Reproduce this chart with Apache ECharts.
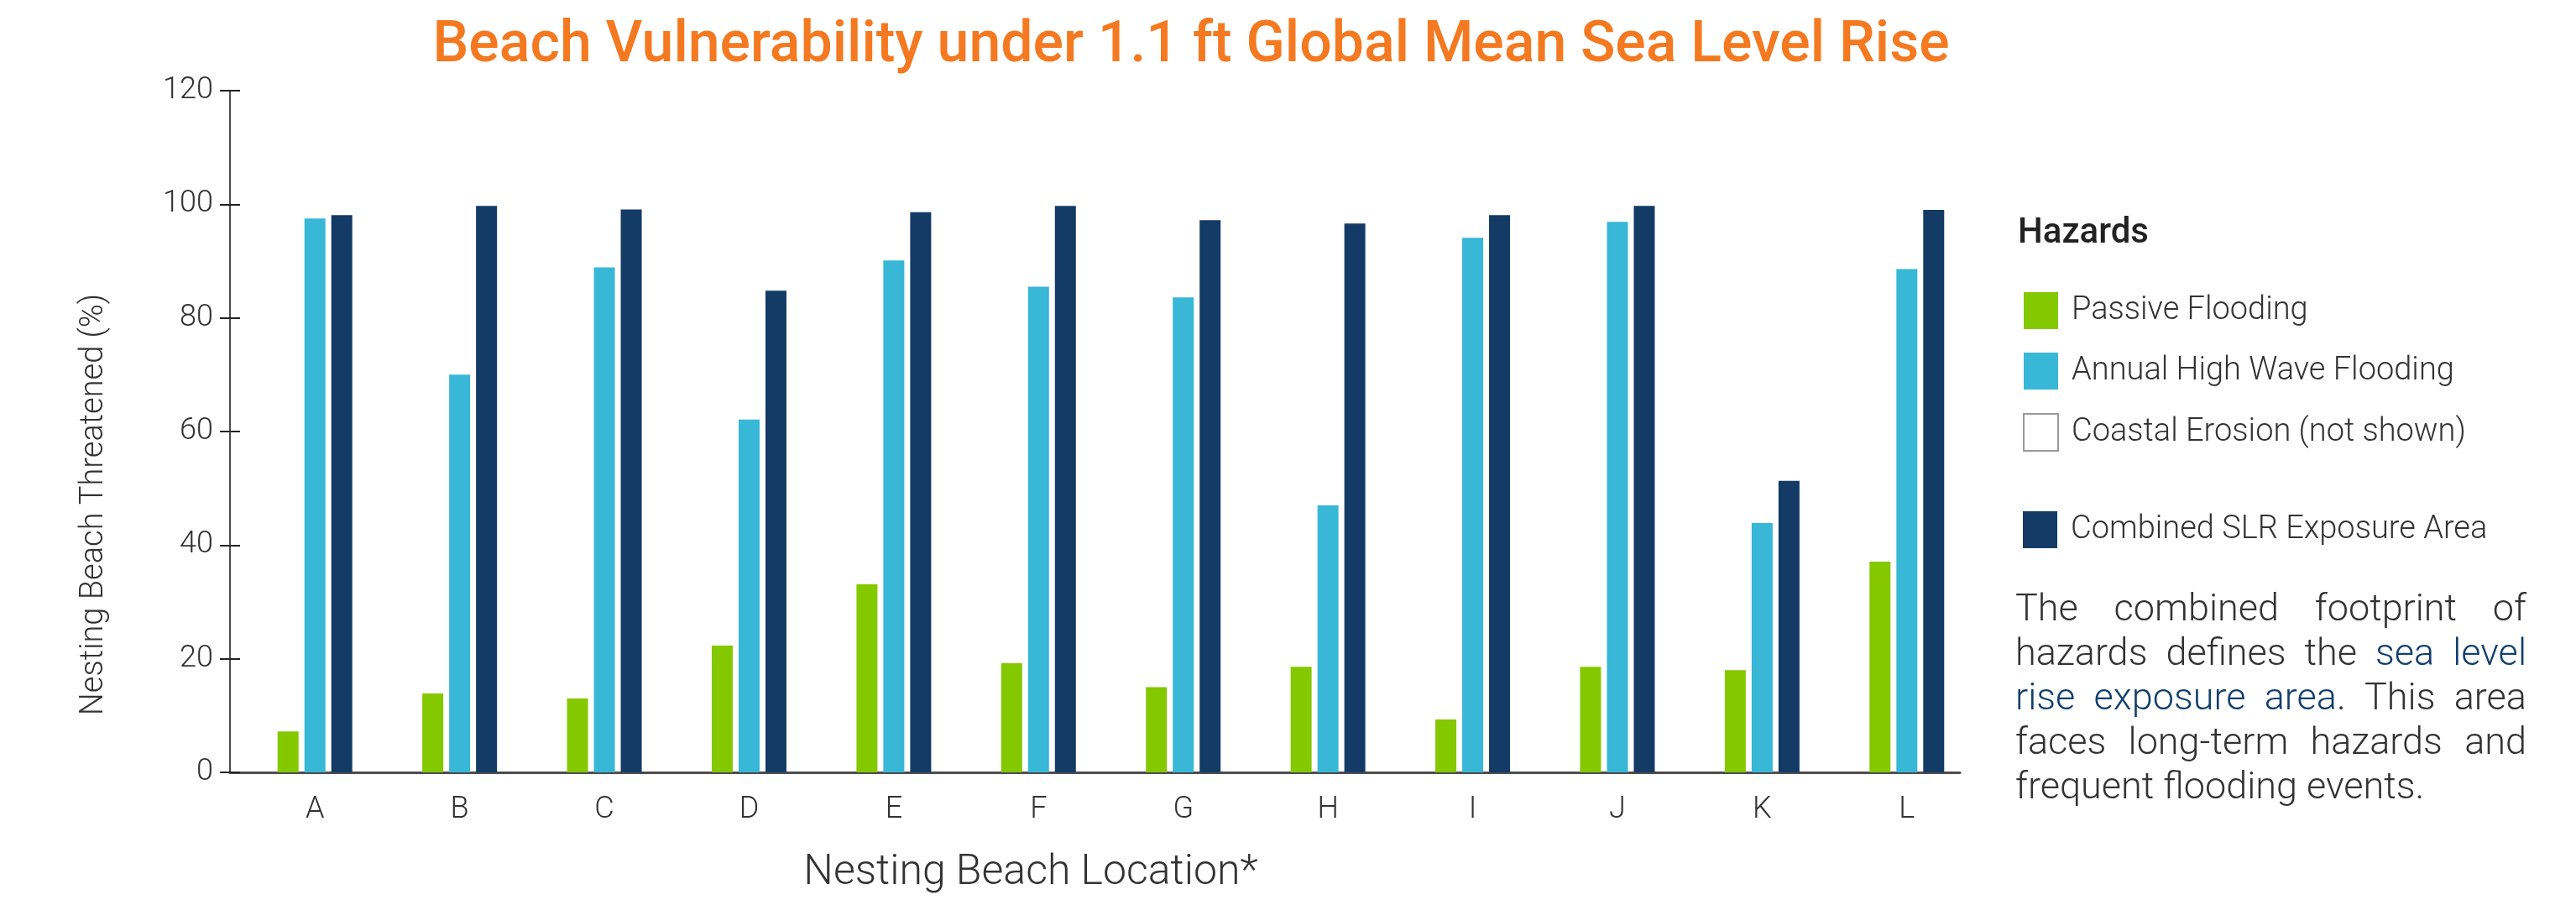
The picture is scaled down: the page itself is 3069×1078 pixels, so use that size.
<!DOCTYPE html>
<html>
<head>
<meta charset="utf-8">
<title>Beach Vulnerability</title>
<script src="https://cdn.jsdelivr.net/npm/echarts@6/dist/echarts.min.js"></script>
<style>
  html, body { margin: 0; padding: 0; background: #fff; }
  #chart { width: 3069px; height: 1078px; }
</style>
</head>
<body>
<div id="chart"></div>
<script>
// values (% of nesting beach threatened)
const categories = ['A', 'B', 'C', 'D', 'E', 'F', 'G', 'H', 'I', 'J', 'K', 'L']
const passiveFlooding = [7.2, 13.9, 13.0, 22.3, 33.1, 19.2, 15.0, 18.6, 9.3, 18.6, 18.0, 37.1]
const highWaveFlooding = [97.5, 70.0, 88.9, 62.1, 90.1, 85.5, 83.6, 47.0, 94.1, 96.9, 43.9, 88.6]
const combinedExposure = [98.1, 99.7, 99.1, 84.8, 98.6, 99.7, 97.2, 96.6, 98.1, 99.7, 51.3, 99.0]
const yMin = 0
const yMax = 120
const yStep = 20

// side note, blue words in [brackets]
const noteLines = [
  'The combined footprint of',
  'hazards defines the [sea] [level]',
  '[rise] [exposure] [area]. This area',
  'faces long-term hazards and',
  'frequent flooding events.'
]

const FONT = 'Roboto, "Noto Sans", sans-serif'
const TEXT = '#333333'
const BLUE = '#123F6E'
const AXIS = '#4d4d4d'

const chart = echarts.init(document.getElementById('chart'))

// build the justified paragraph word by word
const ctx = document.createElement('canvas').getContext('2d')
function noteElements() {
  const fs = 45
  const font = '300 ' + fs + 'px ' + FONT
  ctx.font = font
  const left = 2401
  const right = 3010
  const els = []
  noteLines.forEach((line, i) => {
    const bottom = 750 + i * 53
    const words = line.split(' ').map(w => {
      // split one word into coloured pieces
      const parts = []
      w.split(/(\[[^\]]*\])/).forEach(p => {
        if (!p) return
        if (p[0] === '[') parts.push({ t: p.slice(1, -1), c: BLUE })
        else parts.push({ t: p, c: TEXT })
      })
      const width = parts.reduce((s, p) => s + ctx.measureText(p.t).width, 0)
      return { parts, width }
    })
    const total = words.reduce((s, w) => s + w.width, 0)
    const last = i === noteLines.length - 1
    const gap = last ? ctx.measureText(' ').width : (right - left - total) / (words.length - 1)
    let x = left
    words.forEach(w => {
      let px = x
      w.parts.forEach(p => {
        els.push({
          type: 'text',
          x: px,
          y: bottom,
          style: { text: p.t, font: font, fill: p.c, align: 'left', verticalAlign: 'bottom' }
        })
        px += ctx.measureText(p.t).width
      })
      x += w.width + gap
    })
  })
  return els
}

const legendText = { color: TEXT, fontSize: 38, fontWeight: 300, fontFamily: FONT, padding: [0, 0, 0, 11] }

const option = {
  animation: false,
  backgroundColor: '#ffffff',
  grid: [
    // bars
    { left: 289, right: 711, top: 108, bottom: 158 },
    // axis frame, slightly offset from the bar bands like the original
    { left: 274, right: 734, top: 108, bottom: 158 }
  ],
  xAxis: [
    {
      type: 'category',
      gridIndex: 0,
      data: categories,
      axisLine: { show: false },
      axisTick: { show: false },
      axisLabel: {
        margin: 45,
        verticalAlign: 'middle',
        color: TEXT,
        fontSize: 36,
        fontWeight: 300,
        fontFamily: FONT
      }
    },
    {
      type: 'category',
      gridIndex: 1,
      data: categories,
      axisLine: { show: true, lineStyle: { color: AXIS, width: 3 } },
      axisTick: { show: false },
      axisLabel: { show: false }
    }
  ],
  yAxis: [
    { type: 'value', gridIndex: 0, min: yMin, max: yMax, interval: yStep, show: false },
    {
      type: 'value',
      gridIndex: 1,
      position: 'left',
      min: yMin,
      max: yMax,
      interval: yStep,
      axisLine: { show: true, lineStyle: { color: AXIS, width: 2 } },
      axisTick: { show: true, length: 12, lineStyle: { color: '#222', width: 2 } },
      splitLine: { show: false },
      axisLabel: {
        margin: 20,
        color: TEXT,
        fontSize: 36,
        fontWeight: 300,
        fontFamily: FONT
      }
    },
    {
      // second set of ticks so they cross the axis
      type: 'value',
      gridIndex: 1,
      position: 'left',
      offset: 0,
      min: yMin,
      max: yMax,
      interval: yStep,
      axisLine: { show: false },
      axisTick: { show: true, inside: true, length: 12, lineStyle: { color: '#222', width: 2 } },
      splitLine: { show: false },
      axisLabel: { show: false }
    }
  ],
  legend: [
    {
      orient: 'vertical',
      left: 2405,
      top: 343,
      icon: 'rect',
      itemWidth: 41,
      itemHeight: 44,
      itemGap: 28,
      selectedMode: false,
      data: ['Passive Flooding', 'Annual High Wave Flooding', 'Coastal Erosion (not shown)'],
      textStyle: legendText
    },
    {
      orient: 'vertical',
      left: 2405,
      top: 604,
      icon: 'rect',
      itemWidth: 41,
      itemHeight: 44,
      selectedMode: false,
      data: ['Combined SLR Exposure Area'],
      textStyle: legendText
    }
  ],
  series: [
    {
      name: 'Passive Flooding',
      type: 'bar',
      xAxisIndex: 0,
      yAxisIndex: 0,
      barWidth: 25,
      barGap: '28%',
      itemStyle: { color: '#84C800' },
      data: passiveFlooding
    },
    {
      name: 'Annual High Wave Flooding',
      type: 'bar',
      xAxisIndex: 0,
      yAxisIndex: 0,
      barWidth: 25,
      barGap: '28%',
      itemStyle: { color: '#38B7D6' },
      data: highWaveFlooding
    },
    {
      name: 'Combined SLR Exposure Area',
      type: 'bar',
      xAxisIndex: 0,
      yAxisIndex: 0,
      barWidth: 25,
      barGap: '28%',
      itemStyle: { color: '#133B66' },
      data: combinedExposure
    },
    {
      // legend only, lives on the frame grid so it takes no bar slot
      name: 'Coastal Erosion (not shown)',
      type: 'bar',
      xAxisIndex: 1,
      yAxisIndex: 1,
      itemStyle: { color: '#ffffff', borderColor: '#999999', borderWidth: 3 },
      data: []
    }
  ],
  graphic: [
    {
      type: 'text',
      x: 1419,
      y: 56,
      style: {
        text: 'Beach Vulnerability under 1.1 ft Global Mean Sea Level Rise',
        font: '500 68px ' + FONT,
        fill: '#F47920',
        align: 'center',
        verticalAlign: 'middle'
      }
    },
    {
      type: 'text',
      x: 112,
      y: 601,
      rotation: Math.PI / 2,
      style: {
        text: 'Nesting Beach Threatened (%)',
        font: '300 38px ' + FONT,
        fill: TEXT,
        align: 'center',
        verticalAlign: 'middle'
      }
    },
    {
      type: 'text',
      x: 1228,
      y: 1040,
      style: {
        text: 'Nesting Beach Location*',
        font: '300 50px ' + FONT,
        fill: TEXT,
        align: 'center',
        verticalAlign: 'middle'
      }
    },
    {
      type: 'text',
      x: 2404,
      y: 278,
      style: {
        text: 'Hazards',
        font: '500 42px ' + FONT,
        fill: '#222222',
        align: 'left',
        verticalAlign: 'middle'
      }
    }
  ].concat(noteElements())
}

chart.setOption(option)
</script>
</body>
</html>
